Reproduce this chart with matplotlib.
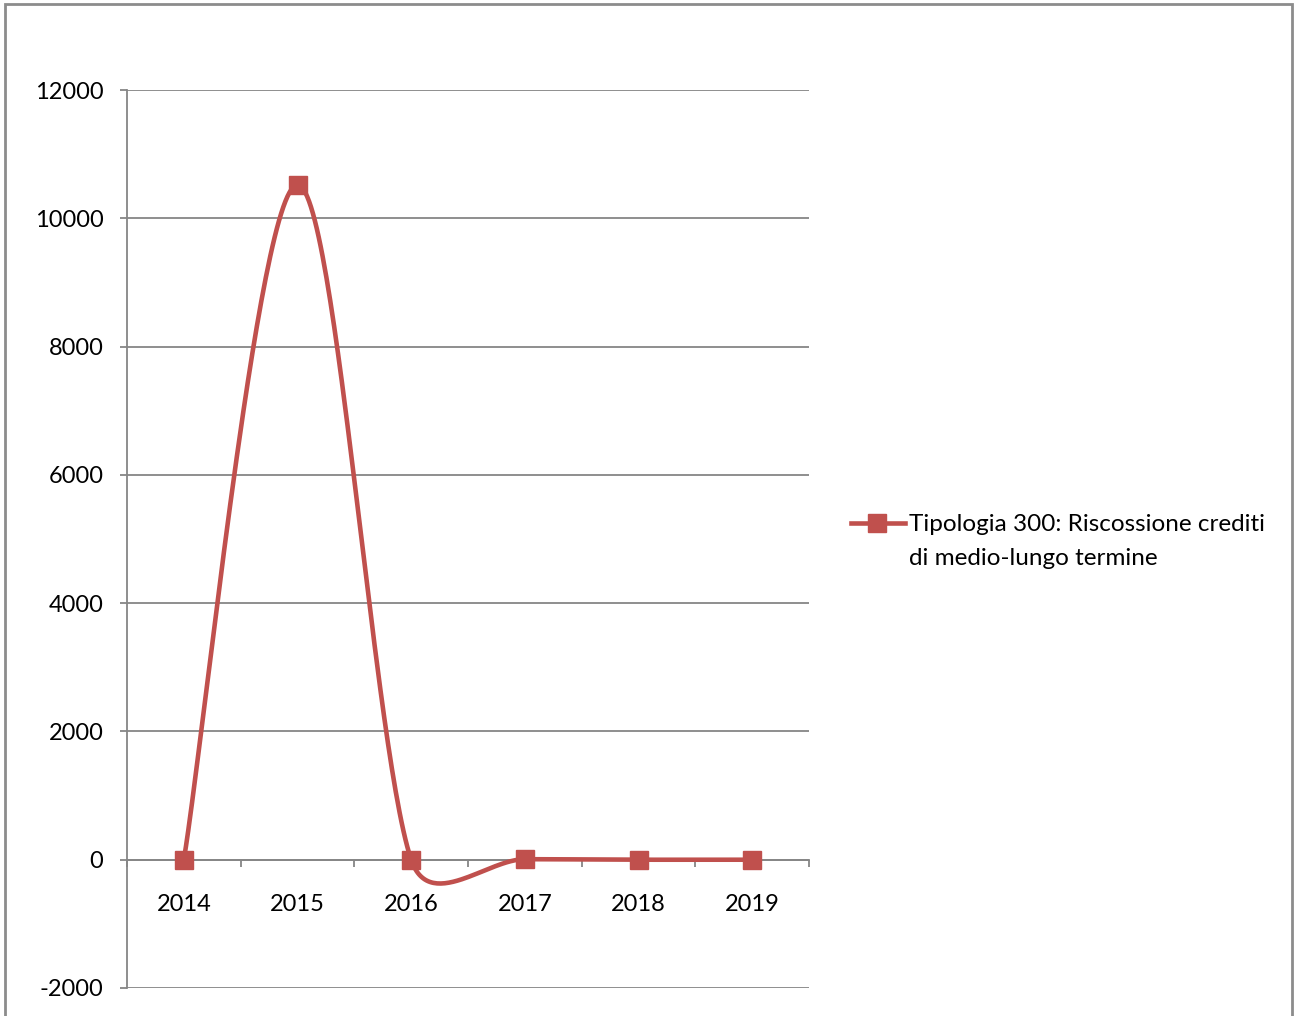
import numpy as np
import matplotlib
matplotlib.use("Agg")
import matplotlib.pyplot as plt
from matplotlib.lines import Line2D
from matplotlib.patches import Rectangle

plt.rcParams['font.family'] = ['Lato', 'DejaVu Sans']

# data
years = ['2014', '2015', '2016', '2017', '2018', '2019']
values = [0, 10520, 0, 8, 0, 0]
series_name = 'Tipologia 300: Riscossione crediti\ndi medio-lungo termine'
yticks = [-2000, 0, 2000, 4000, 6000, 8000, 10000, 12000]

red = '#C0504D'
grey = '#868686'

fig = plt.figure(figsize=(12.94, 10.16), dpi=100)
ax = fig.add_axes([127 / 1294, 1 - 988 / 1016, 682 / 1294, 898 / 1016])
ax.set_xlim(-0.5, 5.5)
ax.set_ylim(-2000, 12000)

# excel-like smoothing, done in pixel space
xs = np.arange(len(years))
pts = ax.transData.transform(np.column_stack([xs, values]))

def ctrl(p0, p1, p2, p3):
    d12 = np.hypot(*(p2 - p1))
    d02 = np.hypot(*(p2 - p0))
    d13 = np.hypot(*(p3 - p1))
    f1 = 1 / 6 if d02 == 0 else min(1 / 6, d12 / (2 * d02))
    f2 = 1 / 6 if d13 == 0 else min(1 / 6, d12 / (2 * d13))
    return p1 + (p2 - p0) * f1, p2 - (p3 - p1) * f2

curve = []
t = np.linspace(0, 1, 60)[:, None]
n = len(pts)
for i in range(n - 1):
    p0 = pts[max(i - 1, 0)]
    p1 = pts[i]
    p2 = pts[i + 1]
    p3 = pts[min(i + 2, n - 1)]
    c1, c2 = ctrl(p0, p1, p2, p3)
    seg = (1 - t) ** 3 * p1 + 3 * (1 - t) ** 2 * t * c1 + 3 * (1 - t) * t ** 2 * c2 + t ** 3 * p2
    curve.append(seg)
curve = ax.transData.inverted().transform(np.vstack(curve))

ax.plot(curve[:, 0], curve[:, 1], color=red, lw=3.3, solid_capstyle='round', zorder=3)
ax.plot(xs, values, ls='none', marker='s', ms=13, color=red, zorder=4)

# axes styling
for s in ['top', 'right']:
    ax.spines[s].set_visible(False)
ax.spines['left'].set_color(grey)
ax.spines['left'].set_linewidth(1.3)
ax.spines['bottom'].set_position(('data', 0))
ax.spines['bottom'].set_color(grey)
ax.spines['bottom'].set_linewidth(1.3)

ax.set_yticks(yticks)
ax.set_yticklabels([str(v) for v in yticks])
ax.grid(axis='y', color=grey, lw=1.3)
ax.set_axisbelow(True)
ax.tick_params(axis='y', direction='out', length=5, width=1.3, color=grey, pad=12, labelsize=17)

ax.set_xticks(np.arange(-0.5, 6, 1))
ax.set_xticklabels([])
ax.set_xticks(xs, minor=True)
ax.set_xticklabels(years, minor=True)
ax.tick_params(axis='x', which='major', direction='out', length=5, width=1.3, color=grey)
ax.tick_params(axis='x', which='minor', length=0, pad=25, labelsize=17)

# legend drawn by hand so the marker sits on the first line
lx = [851 / 1294, 877 / 1294, 905 / 1294]
ly = 1 - 523 / 1016
fig.add_artist(Line2D(lx, [ly] * 3, color=red, lw=3.3, marker='s', ms=13, markevery=[1]))
fig.text(909 / 1294, ly + 0.0085, series_name, fontsize=17.5, va='top', ha='left', linespacing=1.72)

# outer chart border
fig.add_artist(Rectangle((5 / 1294, -0.01), 1287 / 1294, 1.01 - 4 / 1016, transform=fig.transFigure,
                         fill=False, ec='#8c8c8c', lw=2))

fig.savefig('out.png', dpi=100)
